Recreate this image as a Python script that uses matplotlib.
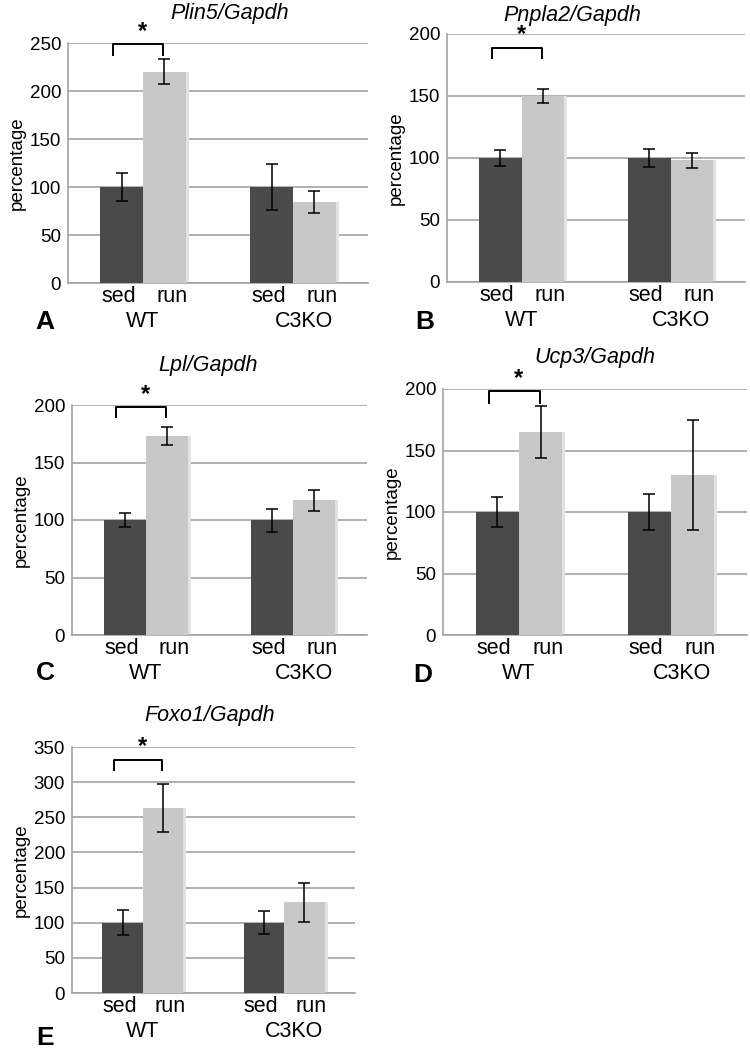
import numpy as np
import matplotlib
matplotlib.use('Agg')
import matplotlib.pyplot as plt

plt.rcParams['font.family'] = ['Liberation Sans', 'DejaVu Sans']

# Data: [WT, C3KO] for each gene, values in percent of WT sed
groups = ['WT', 'C3KO']
conditions = ['sed', 'run']

plin5_sed = [100, 100]
plin5_sed_err = [14.5, 24]
plin5_run = [220, 84]
plin5_run_err = [13, 11.5]

pnpla2_sed = [100, 100]
pnpla2_sed_err = [6.5, 7.4]
pnpla2_run = [150, 98]
pnpla2_run_err = [6, 6.3]

lpl_sed = [100, 100]
lpl_sed_err = [6.4, 10]
lpl_run = [173, 117]
lpl_run_err = [8, 9.3]

ucp3_sed = [100, 100]
ucp3_sed_err = [12, 15]
ucp3_run = [165, 130]
ucp3_run_err = [21, 45]

foxo1_sed = [100, 100]
foxo1_sed_err = [18, 16.5]
foxo1_run = [263, 129]
foxo1_run_err = [34, 28]

titles = ['Plin5/Gapdh', 'Pnpla2/Gapdh', 'Lpl/Gapdh', 'Ucp3/Gapdh', 'Foxo1/Gapdh']
letters = ['A', 'B', 'C', 'D', 'E']
y_max = [250, 200, 200, 200, 350]
bracket = [(238, 249), (181, 189), (190, 198), (189, 198), (317, 332)]

panels = [
    (plin5_sed, plin5_sed_err, plin5_run, plin5_run_err),
    (pnpla2_sed, pnpla2_sed_err, pnpla2_run, pnpla2_run_err),
    (lpl_sed, lpl_sed_err, lpl_run, lpl_run_err),
    (ucp3_sed, ucp3_sed_err, ucp3_run, ucp3_run_err),
    (foxo1_sed, foxo1_sed_err, foxo1_run, foxo1_run_err),
]

# axes boxes in figure pixels: left, top, right, bottom
boxes_px = [
    (68, 43, 368, 283),
    (447, 34, 745, 282),
    (72, 405, 367, 635),
    (443, 389, 747, 635),
    (72, 747, 355, 993),
]
title_px = [(230, 14), (572, 15), (208, 365), (595, 358), (210, 715)]
letter_px = [(45, 322), (425, 322), (45, 673), (423, 675), (45, 1038)]

W, H = 750, 1050
fig = plt.figure(figsize=(7.5, 10.5), dpi=100)

DARK = '#4a4a4a'
LIGHT = '#c8c8c8'
GRID = '#a3a3a3'

bw = 1 / 3.5
x = np.arange(len(groups))

for i, (sed, sed_err, run, run_err) in enumerate(panels):
    l, t, r, b = boxes_px[i]
    ax = fig.add_axes([l / W, 1 - b / H, (r - l) / W, (b - t) / H])

    # soft shadow behind the light bars
    ax.bar(x + bw / 2 + 0.01, run, bw + 0.02, color='#e2e2e2', zorder=2.5)
    ax.bar(x - bw / 2, sed, bw, color=DARK, zorder=3)
    ax.bar(x + bw / 2, run, bw, color=LIGHT, zorder=3)
    ax.errorbar(x - bw / 2, sed, yerr=sed_err, fmt='none', ecolor='black',
                elinewidth=1.1, capsize=4, capthick=1.1, zorder=4)
    ax.errorbar(x + bw / 2, run, yerr=run_err, fmt='none', ecolor='black',
                elinewidth=1.1, capsize=4, capthick=1.1, zorder=4)

    ax.set_xlim(-0.5, 1.5)
    ax.set_ylim(0, y_max[i])
    ax.set_yticks(np.arange(0, y_max[i] + 1, 50))
    ax.yaxis.grid(True, color=GRID, linewidth=1.2, zorder=0)
    ax.set_axisbelow(True)
    ax.tick_params(axis='y', length=0, labelsize=13.5, pad=5)
    ax.set_xticks([])
    for s in ['top', 'right']:
        ax.spines[s].set_visible(False)
    ax.spines['left'].set_color(GRID)
    ax.spines['bottom'].set_color(GRID)
    ax.spines['left'].set_linewidth(1.2)
    ax.spines['bottom'].set_linewidth(1.2)
    ax.set_ylabel('percentage', fontsize=13.5, labelpad=3)

    # category labels
    for g in range(len(groups)):
        ax.annotate(conditions[0], xy=(x[g] - bw / 2 - 0.02, 0), xycoords='data',
                    xytext=(0, -10), textcoords='offset points',
                    ha='center', va='center', fontsize=15.5)
        ax.annotate(conditions[1], xy=(x[g] + bw / 2 + 0.05, 0), xycoords='data',
                    xytext=(0, -10), textcoords='offset points',
                    ha='center', va='center', fontsize=15.5)
        ax.annotate(groups[g], xy=(x[g] + (0.07 if g == 1 else 0), 0), xycoords='data',
                    xytext=(0, -28), textcoords='offset points',
                    ha='center', va='center', fontsize=15.5)

    # significance bracket
    lo, hi = bracket[i]
    xs = [-0.2, -0.2, 0.135, 0.135]
    ax.plot(xs, [lo, hi, hi, lo], color='black', linewidth=1.4,
            clip_on=False, zorder=5)
    ax.annotate('*', xy=(0.0, hi), xycoords='data', xytext=(0, 1),
                textcoords='offset points', ha='center', va='bottom',
                fontsize=17, fontweight='bold', annotation_clip=False)

    tx, ty = title_px[i]
    fig.text(tx / W, 1 - ty / H, titles[i], ha='center', va='center',
             fontsize=15.5, style='italic')
    lx, ly = letter_px[i]
    fig.text(lx / W, 1 - ly / H, letters[i], ha='center', va='center',
             fontsize=19, fontweight='bold')

fig.savefig('out.png', dpi=100, facecolor='white')
